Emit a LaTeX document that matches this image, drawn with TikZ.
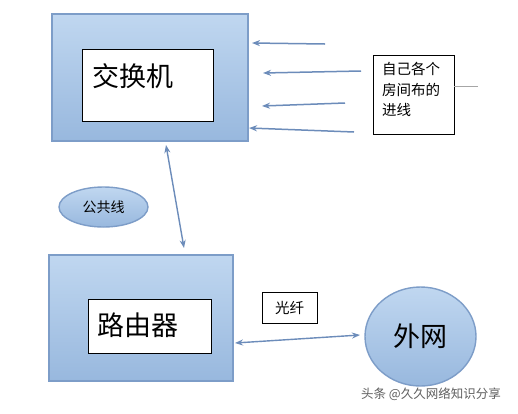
\documentclass[tikz,border=0pt]{standalone}
\usepackage{fontspec}
\setmainfont{Noto Sans CJK SC}
\usetikzlibrary{arrows.meta,shapes.geometric}
\definecolor{boxtop}{RGB}{192,215,240}
\definecolor{boxbot}{RGB}{152,184,222}
\definecolor{boxline}{RGB}{125,157,200}
\definecolor{arrcol}{RGB}{108,140,186}
\definecolor{wmark}{RGB}{95,95,95}
\tikzset{
  outerbox/.style={draw=boxline, line width=2pt, top color=boxtop, bottom color=boxbot, minimum width=#1},
  whitebox/.style={draw=black, line width=0.8pt, fill=white, inner sep=0pt},
  arr/.style={draw=arrcol, line width=1.5pt, -{Stealth[length=8pt,width=6pt]}},
  darr/.style={draw=arrcol, line width=1.4pt, {Stealth[length=8pt,width=6pt]}-{Stealth[length=8pt,width=6pt]}},
  bigtxt/.style={font=\fontsize{27}{30}\selectfont, inner sep=0pt},
  smalltxt/.style={font=\fontsize{14.5}{20.5}\selectfont, inner sep=0pt},
}
\begin{document}
\begin{tikzpicture}[x=1pt,y=-1pt]
\useasboundingbox[fill=white] (0,0) rectangle (518,413);
% top switch box
\node[outerbox=196pt, minimum height=127pt, inner sep=0pt] (sw) at (149.5,77) {};
\node[whitebox, minimum width=131pt, minimum height=72pt] (swin) at (147.5,85) {};
\node[bigtxt, anchor=west] (swt) at (92,76) {交换机};
% router box
\node[outerbox=184pt, minimum height=126pt, inner sep=0pt] (rt) at (140.5,317.5) {};
\node[whitebox, minimum width=123pt, minimum height=54pt] (rtin) at (149.5,326) {};
\node[bigtxt, anchor=west] (rtt) at (97,325) {路由器};
% incoming lines
\coordinate (a1s) at (325,44);  \coordinate (a1e) at (252,43);
\coordinate (a2s) at (361,71);  \coordinate (a2e) at (263,73);
\coordinate (a3s) at (345,103); \coordinate (a3e) at (262,106);
\coordinate (a4s) at (354,132); \coordinate (a4e) at (249,128);
\draw[arr] (a1s) -- (a1e);
\draw[arr] (a2s) -- (a2e);
\draw[arr] (a3s) -- (a3e);
\draw[arr] (a4s) -- (a4e);
% room wiring text box
\node[draw=black, line width=0.8pt, minimum width=81pt, minimum height=79pt, inner sep=0pt] (room) at (413.5,94.5) {};
\node[smalltxt, anchor=north west, align=left] (roomt) at (382,62) {自己各个\\房间布的\\进线};
\coordinate (rl1) at (454,86);
\coordinate (rl2) at (478,86);
\draw[draw=gray!70, line width=0.8pt] (rl1) -- (rl2);
% public line
\node[ellipse, draw=boxline, line width=1.4pt, top color=boxtop, bottom color=boxbot, minimum width=89pt, minimum height=40pt, inner sep=0pt, font=\fontsize{14}{16}\selectfont] (pub) at (103.5,207) {公共线};
\coordinate (v1) at (166,145);
\coordinate (v2) at (184,248);
\draw[darr] (v1) -- (v2);
% fiber
\node[draw=black, line width=0.8pt, minimum width=55pt, minimum height=31pt, inner sep=0pt, font=\fontsize{14.5}{16}\selectfont] (fib) at (289.5,307.5) {光纤\hspace{4pt}};
% internet
\node[ellipse, draw=boxline, line width=1.4pt, top color=boxtop, bottom color=boxbot, minimum width=111pt, minimum height=99pt, inner sep=0pt, font=\fontsize{27}{30}\selectfont] (net) at (420.5,336.5) {外网\hspace{6pt}};
\coordinate (h1) at (235,343);
\coordinate (h2) at (360,335);
\draw[darr] (h1) -- (h2);
% watermark
\node[text=wmark, font=\fontsize{12.5}{14}\selectfont, inner sep=0pt] (wm) at (431,394) {头条 @久久网络知识分享};
\end{tikzpicture}
\end{document}
